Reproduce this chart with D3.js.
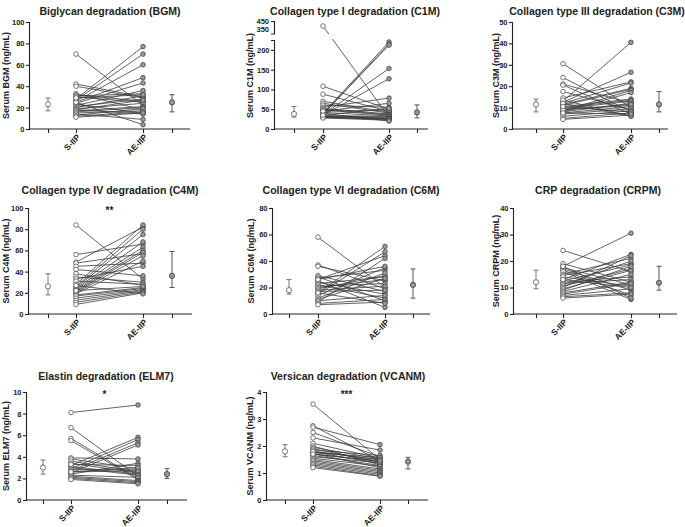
<!DOCTYPE html>
<html><head><meta charset="utf-8">
<script src="https://cdn.jsdelivr.net/npm/d3@7"></script>
<style>
body{margin:0;background:#fff;}
text{font-family:"Liberation Sans",Arial,sans-serif;}
</style></head>
<body><svg id="c" width="685" height="527"></svg>
<script>
// ---------------- DATA ----------------
const categories = ["S-IIP", "AE-IIP"];
const titles = ["Biglycan degradation (BGM)", "Collagen type I degradation (C1M)", "Collagen type III degradation (C3M)",
  "Collagen type IV degradation (C4M)", "Collagen type VI degradation (C6M)", "CRP degradation (CRPM)",
  "Elastin degradation (ELM7)", "Versican degradation (VCANM)"];
const yLabels = ["Serum BGM (ng/mL)", "Serum C1M (ng/mL)", "Serum C3M (ng/mL)", "Serum C4M (ng/mL)",
  "Serum C6M (ng/mL)", "Serum CRPM (ng/mL)", "Serum ELM7 (ng/mL)", "Serum VCANM (ng/mL)"];
const yTicks = [[0,20,40,60,80,100],[0,50,100,150,200],[0,10,20,30,40,50],[0,20,40,60,80,100],
  [0,20,40,60,80],[0,10,20,30,40],[0,2,4,6,8,10],[0,1,2,3,4]];
const yMax = [100, 225, 50, 100, 80, 40, 10, 4];
const c1mUpperTicks = [350, 450];
const significance = ["", "", "", "**", "", "", "*", "***"];

const bgmS  = [70,42,40,33,32,31,30,28,27,26,25,24,23,22,21,20,19,18,18,17,16,15,14,13,12,11,25,29];
const bgmAE = [22,30,29,18,26,33,25,77,70,60,48,43,15,36,28,31,24,27,14,21,20,17,9,19,16,15,4,32];
const c1mS  = [390,108,88,70,65,60,55,52,50,48,45,42,40,38,37,36,35,34,33,32,31,30,30,29,28,40,45,35];
const c1mAE = [30,50,45,42,40,55,78,38,36,35,65,33,220,215,212,153,127,32,30,28,27,26,25,24,22,20,48,52];
const c3mS  = [30.5,24,21,20.5,17.5,14.5,13,12.5,12,11.5,11,10.5,10,9.5,9,8.5,8,8,7.5,7,6,5,4.5,13.5,12,9,10.5,7.5];
const c3mAE = [10,8,12,7,9,22,40.5,26.5,21.5,19,18.5,14,13.5,13,11,18,17,12,10.5,9.5,8.5,7.5,6.5,6,6,11.5,8,7];
const c4mS  = [84,56,49,48,45,42,38,35,33,31,28,26,25,24,23,22,21,20,19,18,17,15,13,11,9,22,27];
const c4mAE = [33,66,82,57,48,36,27,30,45,28,84,80,75,68,63,60,58,55,50,25,24,23,22,21,20,26,19];
const c6mS  = [58,37,36,29,28,27,26,25,24,23,22,21,20,19,18,17,16,15,14,12,11,10,9,8,7,26,16];
const c6mAE = [20,19,25,17,10,33,44,5,15,28,12,23,26,29,21,18,51,47,35,31,27,14,42,11,9,36,8];
const crpmS  = [24,19,18,17.5,17,16.5,16,15,14.5,14,13,12.5,12,11.5,11,10.5,10,9.5,9,8.5,8,7.5,7,6.5,6,18,13];
const crpmAE = [16,12,30.5,11,9,7,5.5,21,19,10.5,22.5,18.5,14,13,20,17,22,16.5,18,15,12,11.5,9.5,8,7.5,6,10];
const elm7S  = [8.1,6.7,5.7,5.5,3.9,3.8,3.6,3.4,3.2,3.1,3.0,2.9,2.8,2.7,2.6,2.5,2.4,2.3,2.2,2.1,2.0,1.9,3.3,2.6];
const elm7AE = [8.8,2.2,2.0,1.9,3.8,2.9,2.6,2.5,5.8,2.4,2.3,5.6,2.8,5.3,2.7,5.1,3.4,2.1,1.8,1.7,1.6,1.5,3.2,3.0];
const vcanmS  = [3.55,2.75,2.7,2.5,2.3,2.1,2.0,1.95,1.9,1.85,1.8,1.78,1.75,1.72,1.7,1.65,1.6,1.55,1.5,1.45,1.4,1.35,1.3,1.25,1.2,1.8,1.7];
const vcanmAE = [1.5,1.45,2.05,1.6,1.85,1.55,1.3,1.52,1.4,1.65,1.48,1.35,1.58,1.2,1.42,1.28,1.38,1.25,1.15,1.1,1.05,1.0,0.95,0.9,0.88,1.5,1.45];

// summary [lower, median, upper]
const bgmSumS = [17,23,29],   bgmSumAE = [16,25,32];
const c1mSumS = [30,38,57],   c1mSumAE = [28,42,61];
const c3mSumS = [8,11.5,14],  c3mSumAE = [8,11.5,17.5];
const c4mSumS = [18,26,38],   c4mSumAE = [25,36,59];
const c6mSumS = [15,18,26],   c6mSumAE = [12,22,34];
const crpmSumS = [9.5,12,16.5], crpmSumAE = [9,11.8,18];
const elm7SumS = [2.4,3.0,3.7], elm7SumAE = [2.0,2.4,2.9];
const vcanmSumS = [1.6,1.8,2.05], vcanmSumAE = [1.15,1.42,1.58];

const seriesS  = [bgmS, c1mS, c3mS, c4mS, c6mS, crpmS, elm7S, vcanmS];
const seriesAE = [bgmAE, c1mAE, c3mAE, c4mAE, c6mAE, crpmAE, elm7AE, vcanmAE];
const sumS  = [bgmSumS, c1mSumS, c3mSumS, c4mSumS, c6mSumS, crpmSumS, elm7SumS, vcanmSumS];
const sumAE = [bgmSumAE, c1mSumAE, c3mSumAE, c4mSumAE, c6mSumAE, crpmSumAE, elm7SumAE, vcanmSumAE];

// ---------------- LAYOUT ----------------
const layout = [
  {ax:29,  xs:[48,76,143,172],   xEnd:190, yTop:22,  yBot:129, tx:110, ty:15,  lx:9},
  {ax:274, xs:[294,323,389,417], xEnd:428, yTop:40,  yBot:129, tx:355, ty:15,  lx:253},
  {ax:512, xs:[536,563,631,659], xEnd:668, yTop:22,  yBot:129, tx:597, ty:15,  lx:499},
  {ax:28,  xs:[48,76,143,172],   xEnd:192, yTop:208, yBot:314, tx:110, ty:194, lx:9},
  {ax:272, xs:[289,318,385,413], xEnd:430, yTop:208, yBot:314, tx:351, ty:194, lx:254},
  {ax:513, xs:[536,563,631,659], xEnd:677, yTop:208, yBot:314, tx:598, ty:194, lx:499},
  {ax:26,  xs:[43,71,138,167],   xEnd:187, yTop:392, yBot:500, tx:106, ty:380, lx:8.5},
  {ax:266, xs:[285,313,380,408], xEnd:428, yTop:392, yBot:500, tx:348, ty:380, lx:253}
];

const svg = d3.select("#c");
const ink = "#222", lineCol = "#3c3c3c";

layout.forEach((L, i) => {
  const g = svg.append("g");
  const x = d3.scaleOrdinal().domain(["sumS", ...categories, "sumAE"]).range(L.xs);
  const yLow = d3.scaleLinear().domain([0, yMax[i]]).range([L.yBot, L.yTop]);
  let yUp = null;
  if (i === 1) yUp = d3.scaleLinear().domain([300, 450]).range([33.5, 21]);
  const y = v => (yUp && v > 300) ? yUp(v) : yLow(v);

  // title
  g.append("text").attr("x", L.tx).attr("y", L.ty).attr("text-anchor", "middle")
    .attr("font-size", 10.5).attr("font-weight", "bold").attr("fill", ink).text(titles[i]);
  // y label
  const mid = ((i === 1 ? 22 : L.yTop) + L.yBot) / 2;
  g.append("text").attr("transform", `translate(${L.lx},${mid}) rotate(-90)`)
    .attr("text-anchor", "middle").attr("font-size", 9).attr("font-weight", "bold")
    .attr("fill", ink).text(yLabels[i]);

  // y axis
  const styleAxis = sel => {
    sel.selectAll("path,line").attr("stroke", ink).attr("stroke-width", 1.1);
    sel.selectAll("text").attr("font-size", 7.5).attr("font-weight", "bold").attr("fill", ink)
      .attr("font-family", "'Liberation Sans',Arial,sans-serif");
  };
  const ya = g.append("g").attr("transform", `translate(${L.ax},0)`)
    .call(d3.axisLeft(yLow).tickValues(yTicks[i]).tickFormat(d3.format("d"))
      .tickSize(3).tickSizeOuter(3).tickPadding(1.5));
  styleAxis(ya);
  if (yUp) {
    const yb = g.append("g").attr("transform", `translate(${L.ax},0)`)
      .call(d3.axisLeft(yUp).tickValues(c1mUpperTicks).tickFormat(d3.format("d"))
        .tickSize(0).tickSizeOuter(3).tickPadding(5));
    styleAxis(yb);
  }

  // x axis
  g.append("line").attr("x1", L.ax).attr("x2", L.xEnd).attr("y1", L.yBot).attr("y2", L.yBot)
    .attr("stroke", ink).attr("stroke-width", 1.1);
  const xa = g.append("g").attr("transform", `translate(0,${L.yBot})`)
    .call(d3.axisBottom(x).tickSize(4).tickSizeOuter(0).tickFormat(() => ""));
  xa.select("path").remove();
  xa.selectAll("line").attr("stroke", ink).attr("stroke-width", 1.1);
  categories.forEach(c => {
    g.append("text").attr("transform", `translate(${x(c) + 3},${L.yBot + 7}) rotate(-45)`)
      .attr("text-anchor", "end").attr("dy", "0.3em").attr("font-size", 8.5).attr("font-weight", "bold")
      .attr("fill", ink).text(c);
  });

  // paired lines
  const S = seriesS[i], A = seriesAE[i];
  const pairs = S.map((v, k) => [v, A[k]]);
  g.append("g").selectAll("line").data(pairs).join("line")
    .attr("x1", x(categories[0])).attr("x2", x(categories[1]))
    .attr("y1", d => y(d[0])).attr("y2", d => y(d[1]))
    .attr("stroke", lineCol).attr("stroke-width", 0.8);
  if (yUp) {
    g.append("rect").attr("x", x(categories[0]) + 4).attr("width", x(categories[1]) - x(categories[0]) - 8)
      .attr("y", 34).attr("height", 5).attr("fill", "#fff");
  }
  g.append("g").selectAll("circle").data(S).join("circle")
    .attr("cx", x(categories[0])).attr("cy", d => y(d)).attr("r", 2.3)
    .attr("fill", "#fff").attr("stroke", "#555").attr("stroke-width", 0.8);
  g.append("g").selectAll("circle").data(A).join("circle")
    .attr("cx", x(categories[1])).attr("cy", d => y(d)).attr("r", 2.3)
    .attr("fill", "#999").attr("stroke", "#444").attr("stroke-width", 0.8);

  // summaries
  [["sumS", sumS[i], "#fff", "#666"], ["sumAE", sumAE[i], "#999", "#444"]].forEach(([key, s, fill, st]) => {
    const cx = x(key);
    const sg = g.append("g");
    sg.append("line").attr("x1", cx).attr("x2", cx).attr("y1", y(s[0])).attr("y2", y(s[2]))
      .attr("stroke", st).attr("stroke-width", 0.9);
    [s[0], s[2]].forEach(v => sg.append("line").attr("x1", cx - 2.5).attr("x2", cx + 2.5)
      .attr("y1", y(v)).attr("y2", y(v)).attr("stroke", st).attr("stroke-width", 0.9));
    sg.append("circle").attr("cx", cx).attr("cy", y(s[1])).attr("r", 2.6)
      .attr("fill", fill).attr("stroke", st).attr("stroke-width", 0.9);
  });

  if (significance[i]) {
    g.append("text").attr("x", (x(categories[0]) + x(categories[1])) / 2).attr("y", L.yTop + 6)
      .attr("text-anchor", "middle").attr("font-size", 10).attr("font-weight", "bold")
      .attr("fill", ink).text(significance[i]);
  }
});
</script></body></html>
